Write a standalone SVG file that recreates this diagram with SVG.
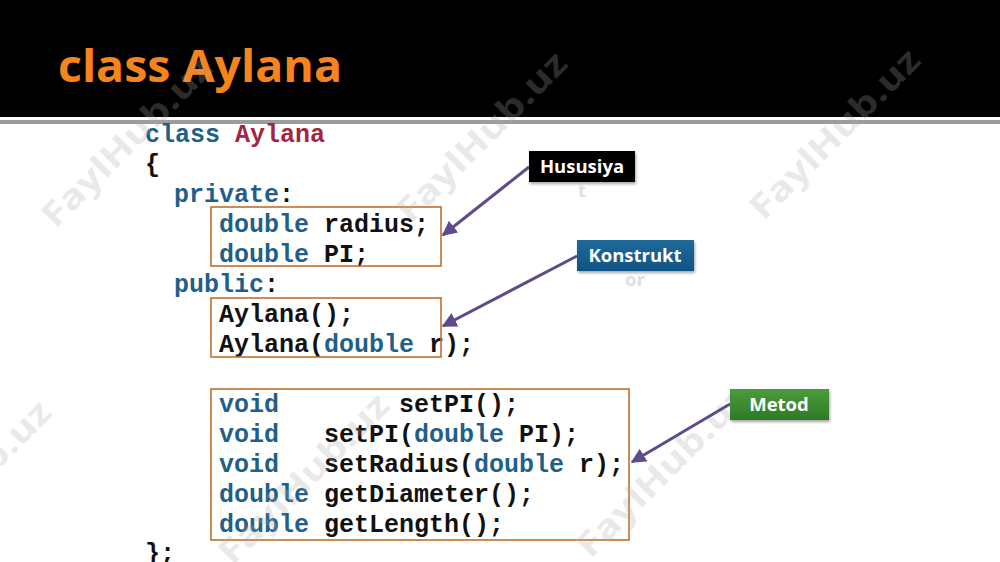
<svg xmlns="http://www.w3.org/2000/svg" width="1000" height="562" viewBox="0 0 1000 562">
<defs>
<style>
.code{font-family:"Liberation Mono","Courier New",monospace;font-weight:bold;font-size:25px;fill:#111;white-space:pre}
.kw{fill:#1f5f88}
.cn{fill:#a3253f}
.box{fill:none;stroke:#c0702a;stroke-width:1.6}
.lbl{font-family:"Open Sans","Noto Sans",sans-serif;font-weight:bold;font-size:18.5px;fill:#fff;text-anchor:middle}
.ghost{font-family:"Open Sans","Noto Sans",sans-serif;font-weight:bold;font-size:18.5px;fill:#e0e0e0;text-anchor:middle}
.wm{font-family:"Open Sans","Noto Sans",sans-serif;font-weight:bold;font-size:34px;fill:#aaa;opacity:0.25;text-anchor:middle}
.conn{stroke:#5f4b8b;stroke-width:3;fill:none;marker-end:url(#ah)}
</style>
<marker id="ah" viewBox="0 0 10 10" refX="9" refY="5" markerWidth="5" markerHeight="5" orient="auto" markerUnits="strokeWidth">
<path d="M0,0 L10,5 L0,10 z" fill="#5f4b8b"/>
</marker>
<linearGradient id="gGreen" x1="0" y1="0" x2="0" y2="1"><stop offset="0" stop-color="#4c9c3c"/><stop offset="1" stop-color="#2e7a26"/></linearGradient>
<linearGradient id="gBlue" x1="0" y1="0" x2="0" y2="1"><stop offset="0" stop-color="#1f6a9a"/><stop offset="1" stop-color="#0f5483"/></linearGradient>
<filter id="sh" x="-10%" y="-20%" width="130%" height="160%"><feDropShadow dx="1" dy="2" stdDeviation="1.5" flood-color="#000" flood-opacity="0.35"/></filter>
</defs>

<rect x="0" y="0" width="1000" height="562" fill="#fff"/>
<rect x="0" y="0" width="1000" height="117" fill="#000"/>
<rect x="0" y="120" width="1000" height="4" fill="#9c9c9c"/>
<text x="58" y="82" font-family="'Open Sans','Noto Sans',sans-serif" font-weight="bold" font-size="44" fill="#f5841f" textLength="284" lengthAdjust="spacingAndGlyphs">class Aylana</text>

<g id="code">
<text class="code" x="145" y="142"><tspan class="kw">class</tspan> <tspan class="cn">Aylana</tspan></text>
<text class="code" x="145" y="172">{</text>
<text class="code" x="174" y="202"><tspan class="kw">private</tspan>:</text>
<text class="code" x="219" y="232"><tspan class="kw">double</tspan> radius;</text>
<text class="code" x="219" y="262"><tspan class="kw">double</tspan> PI;</text>
<text class="code" x="174" y="292"><tspan class="kw">public</tspan>:</text>
<text class="code" x="219" y="322">Aylana();</text>
<text class="code" x="219" y="352">Aylana(<tspan class="kw">double</tspan> r);</text>
<text class="code" x="219" y="412" xml:space="preserve"><tspan class="kw">void</tspan>        setPI();</text>
<text class="code" x="219" y="442" xml:space="preserve"><tspan class="kw">void</tspan>   setPI(<tspan class="kw">double</tspan> PI);</text>
<text class="code" x="219" y="472" xml:space="preserve"><tspan class="kw">void</tspan>   setRadius(<tspan class="kw">double</tspan> r);</text>
<text class="code" x="219" y="502"><tspan class="kw">double</tspan> getDiameter();</text>
<text class="code" x="219" y="532"><tspan class="kw">double</tspan> getLength();</text>
<text class="code" x="145" y="561">};</text>
</g>

<g id="box-fields"><rect class="box" x="211" y="207" width="230" height="59"/></g>
<g id="box-ctors"><rect class="box" x="211" y="298" width="230" height="59"/></g>
<g id="box-methods"><rect class="box" x="211" y="389" width="418" height="151"/></g>

<g id="watermarks">
<text class="wm" transform="translate(135,150) rotate(-45)" textLength="225" lengthAdjust="spacingAndGlyphs">FaylHub.uz</text>
<text class="wm" transform="translate(490,145) rotate(-45)" textLength="225" lengthAdjust="spacingAndGlyphs">FaylHub.uz</text>
<text class="wm" transform="translate(843,142) rotate(-45)" textLength="225" lengthAdjust="spacingAndGlyphs">FaylHub.uz</text>
<text class="wm" transform="translate(-26,494) rotate(-45)" textLength="225" lengthAdjust="spacingAndGlyphs">FaylHub.uz</text>
<text class="wm" transform="translate(312,487) rotate(-45)" textLength="225" lengthAdjust="spacingAndGlyphs">FaylHub.uz</text>
<text class="wm" transform="translate(670,480) rotate(-45)" textLength="225" lengthAdjust="spacingAndGlyphs">FaylHub.uz</text>
</g>

<g id="connectors">
<line class="conn" x1="529" y1="167" x2="443" y2="235"/>
<line class="conn" x1="577" y1="256" x2="443" y2="326"/>
<line class="conn" x1="730" y1="404" x2="632" y2="462"/>
</g>

<g id="label-hususiya">
<rect x="529" y="151" width="106" height="31" fill="#000" filter="url(#sh)"/>
<text class="lbl" x="582" y="173">Hususiya</text>
<text class="ghost" x="582" y="197">t</text>
</g>
<g id="label-konstrukt">
<rect x="577" y="240" width="117" height="31" fill="url(#gBlue)" filter="url(#sh)"/>
<text class="lbl" x="635" y="262">Konstrukt</text>
<text class="ghost" x="635" y="286">or</text>
</g>
<g id="label-metod">
<rect x="730" y="389" width="99" height="31" fill="url(#gGreen)" filter="url(#sh)"/>
<text class="lbl" x="779" y="411">Metod</text>
</g>
</svg>
